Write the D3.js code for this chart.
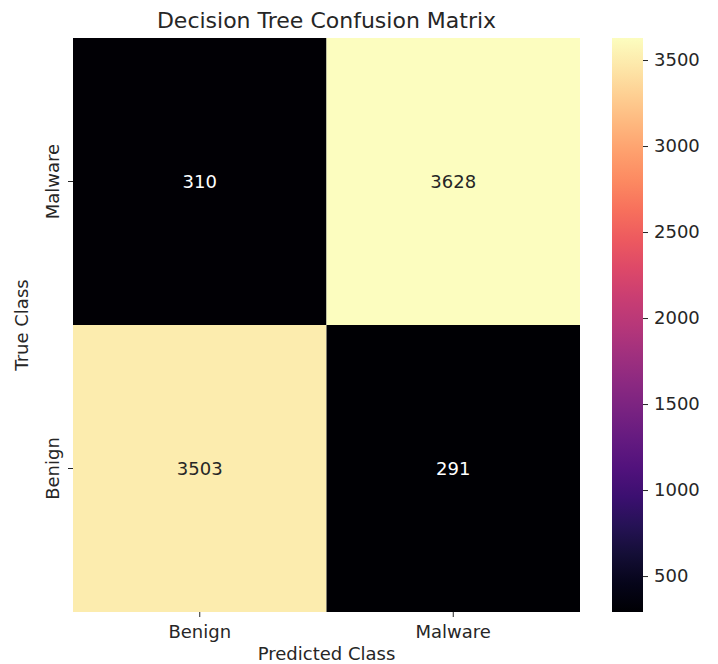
<!DOCTYPE html>
<html>
<head>
<meta charset="utf-8">
<script src="https://cdn.jsdelivr.net/npm/d3@7"></script>
<style>
  html, body { margin: 0; padding: 0; background: #fff; }
  svg { display: block; }
  text { font-family: "DejaVu Sans", sans-serif; fill: #262626; }
</style>
</head>
<body>
<svg id="chart" width="718" height="664"></svg>
<script>
// Confusion matrix of the decision tree classifier
const predictedClasses = ["Benign", "Malware"];
const trueClasses = ["Malware", "Benign"];          // top row first
const matrixRows = [
  [310, 3628],   // true Malware: predicted Benign, predicted Malware
  [3503, 291]    // true Benign:  predicted Benign, predicted Malware
];
const colorbarTicks = [500, 1000, 1500, 2000, 2500, 3000, 3500];

const svg = d3.select("#chart");
const plot = { left: 73, right: 580, top: 38, bottom: 612 };
const bar = { left: 612, right: 643 };

const allValues = matrixRows.flat();
const vmin = d3.min(allValues), vmax = d3.max(allValues);
const color = d3.scaleSequential(d3.interpolateMagma).domain([vmin, vmax]);

const x = d3.scaleBand().domain(predictedClasses).range([plot.left, plot.right]);
const y = d3.scaleBand().domain(trueClasses).range([plot.top, plot.bottom]);

const cells = [];
trueClasses.forEach((t, i) => predictedClasses.forEach((p, j) => {
  cells.push({ t, p, v: matrixRows[i][j] });
}));

// heatmap cells
svg.append("g").selectAll("rect").data(cells).join("rect")
  .attr("x", d => x(d.p)).attr("y", d => y(d.t))
  .attr("width", x.bandwidth()).attr("height", y.bandwidth())
  .attr("fill", d => color(d.v));

// cell annotations
svg.append("g").selectAll("text").data(cells).join("text")
  .attr("x", d => x(d.p) + x.bandwidth() / 2)
  .attr("y", d => y(d.t) + y.bandwidth() / 2)
  .attr("text-anchor", "middle").attr("dominant-baseline", "central")
  .style("font-size", "18px")
  .style("fill", d => d3.hsl(color(d.v)).l > 0.5 ? "#262626" : "#ffffff")
  .text(d => d.v);

// bottom axis
const xAxis = svg.append("g").attr("transform", `translate(0,${plot.bottom})`)
  .call(d3.axisBottom(x).tickSize(5).tickPadding(8));
xAxis.select(".domain").remove();
xAxis.selectAll("line").attr("stroke", "#262626");
xAxis.selectAll("text").style("font-size", "18px").style("font-family", "DejaVu Sans, sans-serif");

// left axis, labels rotated to read bottom-up
const yAxis = svg.append("g").attr("transform", `translate(${plot.left},0)`)
  .call(d3.axisLeft(y).tickSize(5));
yAxis.select(".domain").remove();
yAxis.selectAll("line").attr("stroke", "#262626");
yAxis.selectAll("text")
  .style("font-size", "18px").style("font-family", "DejaVu Sans, sans-serif")
  .attr("text-anchor", "middle")
  .attr("transform", "rotate(-90)")
  .attr("x", 0).attr("y", -14).attr("dy", 0);

// titles
svg.append("text").attr("x", (plot.left + plot.right) / 2).attr("y", 28)
  .attr("text-anchor", "middle").style("font-size", "22px")
  .text("Decision Tree Confusion Matrix");
svg.append("text").attr("x", (plot.left + plot.right) / 2).attr("y", 660)
  .attr("text-anchor", "middle").style("font-size", "18px")
  .text("Predicted Class");
svg.append("text")
  .attr("transform", `translate(28,${(plot.top + plot.bottom) / 2}) rotate(-90)`)
  .attr("text-anchor", "middle").style("font-size", "18px")
  .text("True Class");

// colorbar
const cbY = d3.scaleLinear().domain([vmin, vmax]).range([plot.bottom, plot.top]);
const defs = svg.append("defs");
const grad = defs.append("linearGradient").attr("id", "cbar")
  .attr("x1", 0).attr("y1", 1).attr("x2", 0).attr("y2", 0);
d3.range(0, 1.0001, 0.05).forEach(t => {
  grad.append("stop").attr("offset", t).attr("stop-color", d3.interpolateMagma(t));
});
svg.append("rect").attr("x", bar.left).attr("y", plot.top)
  .attr("width", bar.right - bar.left).attr("height", plot.bottom - plot.top)
  .attr("fill", "url(#cbar)");
const cAxis = svg.append("g").attr("transform", `translate(${bar.right},0)`)
  .call(d3.axisRight(cbY).tickValues(colorbarTicks).tickFormat(d3.format("d"))
    .tickSize(5).tickPadding(6));
cAxis.select(".domain").remove();
cAxis.selectAll("line").attr("stroke", "#262626");
cAxis.selectAll("text").style("font-size", "18px").style("font-family", "DejaVu Sans, sans-serif");
</script>
</body>
</html>
